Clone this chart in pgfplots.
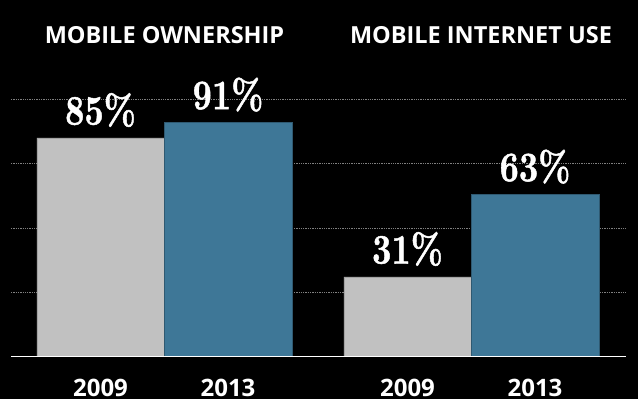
\documentclass[border=0pt]{standalone}
\usepackage{pgfplots}
\pgfplotsset{compat=1.18}
\usepackage{fontspec}
\newfontfamily\titlefont{Open Sans}
\newfontfamily\valfont{lmroman10-bold.otf}[FakeBold=1.2]
\definecolor{bargray}{HTML}{C1C1C1}
\definecolor{barblue}{HTML}{3E7797}
\definecolor{gridgray}{HTML}{808080}
\begin{document}
\begin{tikzpicture}
\begin{axis}[
  at={(0,0)}, anchor=south west,
  scale only axis, width=638pt, height=399pt,
  xmin=0, xmax=638, ymin=-16.44, ymax=138.63,
  axis background/.style={fill=black},
  axis line style={draw=none},
  major tick length=0pt,
  ytick=\empty,
  xtick={100.5,228,407.5,535},
  xticklabels={2009,2013,2009,2013},
  xticklabel style={font=\titlefont\bfseries\fontsize{24}{24}\selectfont, text=white, anchor=base, inner sep=0pt, yshift=2.2pt},
  ybar, bar width=127.5,
  clip=false,
  point meta=explicit symbolic,
  nodes near coords={\scalebox{0.8}[1]{\pgfplotspointmeta\%}},
  every node near coord/.append style={anchor=base, text=white, inner sep=0pt, yshift=13.4pt, font=\valfont\fontsize{42}{42}\selectfont},
]
\draw[gridgray, line width=0.8pt, dash pattern=on 1.3pt off 1pt] (axis cs:11,25) -- (axis cs:627,25);
\draw[gridgray, line width=0.8pt, dash pattern=on 1.3pt off 1pt] (axis cs:11,50) -- (axis cs:627,50);
\draw[gridgray, line width=0.8pt, dash pattern=on 1.3pt off 1pt] (axis cs:11,75) -- (axis cs:627,75);
\draw[gridgray, line width=0.8pt, dash pattern=on 1.3pt off 1pt] (axis cs:11,100) -- (axis cs:627,100);
\addplot[fill=bargray, draw=bargray!85!black, line width=0.4pt, bar shift=0pt] coordinates {(100.5,85) [85] (407.5,31) [31]};
\addplot[fill=barblue, draw=barblue!75!black, line width=0.5pt, bar shift=0pt] coordinates {(228,91) [91] (535,63) [63]};
\draw[white, line width=1pt] (axis cs:11,0) -- (axis cs:626,0);
\node[anchor=base, text=white, inner sep=0pt, font=\titlefont\bfseries\fontsize{23.5}{23.5}\selectfont] at (axis cs:164.5,121.9) {MOBILE OWNERSHIP};
\node[anchor=base, text=white, inner sep=0pt, font=\titlefont\bfseries\fontsize{23.5}{23.5}\selectfont] at (axis cs:481,121.9) {MOBILE INTERNET USE};
\end{axis}
\pgfresetboundingbox
\path (0,0) rectangle (638pt,399pt);
\end{tikzpicture}
\end{document}
